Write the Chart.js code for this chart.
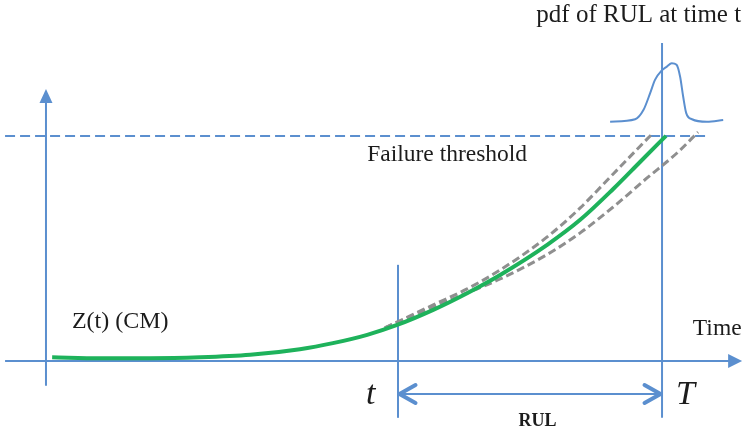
<!DOCTYPE html>
<html>
<head>
<meta charset="utf-8">
<script src="https://cdn.jsdelivr.net/npm/chart.js@4/dist/chart.umd.min.js"></script>
<style>
  html, body { margin: 0; padding: 0; background: #ffffff; }
  #wrap { width: 743px; height: 432px; }
</style>
</head>
<body>
<div id="wrap"><canvas id="c" width="743" height="432"></canvas></div>
<script>
// Condition-monitoring signal Z(t), failure threshold and remaining useful life (RUL)
const failureThreshold = 10;
const currentTime = 8;     // t
const failureTime = 14;    // T
const rulLevel = -1.47;    // height of the RUL double arrow

// Observed degradation path Z(t)
const cmTime  = [0.14, 1.23, 2.36, 3.5, 4.64, 5.77, 6.52, 7.3, 7.98, 8.8, 9.57, 10.32, 11.39, 12.14, 12.89, 13.5, 14.09];
const cmValue = [0.16, 0.12, 0.12, 0.16, 0.27, 0.52, 0.79, 1.16, 1.6, 2.27, 3.01, 3.82, 5.16, 6.27, 7.64, 8.84, 10.0];

// Predicted paths after t (upper and lower bounds)
const upperTime  = [7.7, 8.8, 9.57, 10.32, 11.39, 12.14, 12.89, 13.75];
const upperValue = [1.47, 2.49, 3.2, 4.04, 5.51, 6.8, 8.31, 10.04];
const lowerTime  = [7.7, 8.8, 9.57, 10.32, 11.39, 12.14, 12.89, 13.66, 14.34, 14.82];
const lowerValue = [1.47, 2.4, 3.02, 3.64, 4.73, 5.69, 6.84, 8.13, 9.24, 10.17];

// pdf of RUL sketched above the threshold
const pdfTime  = [12.82, 13.39, 13.58, 13.73, 13.84, 13.99, 14.11, 14.22, 14.33, 14.41, 14.48, 14.55, 14.68, 15.02, 15.39];
const pdfValue = [10.63, 10.74, 11.16, 11.9, 12.49, 12.9, 13.08, 13.23, 13.16, 12.64, 11.75, 11.01, 10.74, 10.63, 10.71];

// Extents of the axes and guide lines
const axisTimeStart = -0.93, axisTimeEnd = 15.82;
const axisValueBottom = -1.1, axisValueTop = 12.09;
const thresholdEnd = 15.0;
const tLineTop = 4.27, TLineTop = 14.13, guideBottom = -2.53;

const blue = '#5b8fcf';
const green = '#1eb25b';
const grey = '#8f8f8f';
const serif = '"Liberation Serif", "Times New Roman", serif';

const pts = (xs, ys) => xs.map((v, i) => ({ x: v, y: ys[i] }));
const seg = (x0, y0, x1, y1) => [{ x: x0, y: y0 }, { x: x1, y: y1 }];

const labels = [
  { text: 'pdf of RUL at time t', x: 13.47, y: 15.08, font: '25px ' + serif, align: 'center' },
  { text: 'Failure threshold', x: 7.3, y: 8.88, font: '23.5px ' + serif, align: 'left' },
  { text: 'Z(t) (CM)', x: 0.59, y: 1.47, font: '24px ' + serif, align: 'left' },
  { text: 'Time', x: 14.7, y: 1.16, font: '23.5px ' + serif, align: 'left' },
  { text: 't', x: 7.27, y: -1.91, font: 'italic 34px ' + serif, align: 'left' },
  { text: 'T', x: 14.32, y: -1.91, font: 'italic 34px ' + serif, align: 'left' },
  { text: 'RUL', x: 11.17, y: -2.89, font: 'bold 18px ' + serif, align: 'center' }
];

const overlay = {
  id: 'overlay',
  afterDatasetsDraw(chart) {
    const { ctx, scales: { x, y } } = chart;
    ctx.save();
    ctx.fillStyle = blue;
    // filled arrowhead on the vertical axis
    let tx = x.getPixelForValue(0), ty = y.getPixelForValue(axisValueTop);
    ctx.beginPath();
    ctx.moveTo(tx, ty); ctx.lineTo(tx - 6.5, ty + 14); ctx.lineTo(tx + 6.5, ty + 14); ctx.closePath();
    ctx.fill();
    // filled arrowhead on the time axis
    tx = x.getPixelForValue(axisTimeEnd); ty = y.getPixelForValue(0);
    ctx.beginPath();
    ctx.moveTo(tx, ty); ctx.lineTo(tx - 14, ty - 7); ctx.lineTo(tx - 14, ty + 7); ctx.closePath();
    ctx.fill();
    // open heads of the RUL double arrow
    ctx.strokeStyle = blue;
    ctx.lineWidth = 4;
    ctx.lineCap = 'round';
    ctx.lineJoin = 'round';
    const ry = y.getPixelForValue(rulLevel);
    const lx = x.getPixelForValue(currentTime) + 1.5;
    const rx = x.getPixelForValue(failureTime) - 1.5;
    ctx.beginPath();
    ctx.moveTo(lx + 16, ry - 9); ctx.lineTo(lx, ry); ctx.lineTo(lx + 16, ry + 9);
    ctx.moveTo(rx - 16, ry - 9); ctx.lineTo(rx, ry); ctx.lineTo(rx - 16, ry + 9);
    ctx.stroke();
    // text
    ctx.fillStyle = '#1c1c1c';
    ctx.textBaseline = 'alphabetic';
    labels.forEach(l => {
      ctx.font = l.font;
      ctx.textAlign = l.align;
      ctx.fillText(l.text, x.getPixelForValue(l.x), y.getPixelForValue(l.y));
    });
    ctx.restore();
  }
};

const guide = (data, extra) => Object.assign({
  data, showLine: true, borderColor: blue, borderWidth: 2, pointRadius: 0, order: 3, tension: 0
}, extra || {});

new Chart(document.getElementById('c'), {
  type: 'scatter',
  data: {
    datasets: [
      { label: 'Z(t)', data: pts(cmTime, cmValue), showLine: true, borderColor: green, borderWidth: 4,
        pointRadius: 0, cubicInterpolationMode: 'monotone', order: 0, borderCapStyle: 'butt' },
      { label: 'upper', data: pts(upperTime, upperValue), showLine: true, borderColor: grey, borderWidth: 3,
        borderDash: [8, 4], pointRadius: 0, cubicInterpolationMode: 'monotone', order: 1 },
      { label: 'lower', data: pts(lowerTime, lowerValue), showLine: true, borderColor: grey, borderWidth: 3,
        borderDash: [8, 4], pointRadius: 0, cubicInterpolationMode: 'monotone', order: 1 },
      guide(pts(pdfTime, pdfValue), { cubicInterpolationMode: 'monotone' }),
      guide(seg(axisTimeStart, 0, axisTimeEnd - 0.3, 0)),
      guide(seg(0, axisValueBottom, 0, axisValueTop - 0.3)),
      guide(seg(axisTimeStart, failureThreshold, thresholdEnd, failureThreshold), { borderDash: [10, 5] }),
      guide(seg(currentTime, guideBottom, currentTime, tLineTop)),
      guide(seg(failureTime, guideBottom, failureTime, TLineTop)),
      guide(seg(currentTime, rulLevel, failureTime, rulLevel))
    ]
  },
  options: {
    responsive: false,
    animation: false,
    events: [],
    layout: { padding: 0 },
    plugins: { legend: { display: false }, tooltip: { enabled: false } },
    scales: {
      x: { type: 'linear', min: -1.045, max: 15.84, display: false },
      y: { type: 'linear', min: -3.16, max: 16.04, display: false }
    }
  },
  plugins: [overlay]
});
</script>
</body>
</html>
